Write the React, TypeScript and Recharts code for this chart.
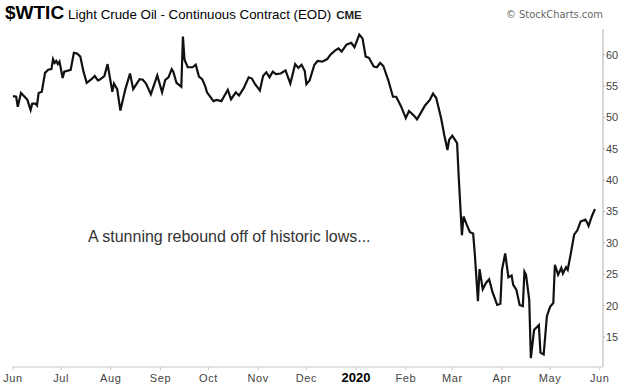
import React from 'react';
import { LineChart, Line, XAxis, YAxis } from 'recharts';

// days since Jun 1 2019, and the close on that day
const days = [
  0, 2, 3, 5, 8, 9, 11, 12, 14, 15, 16, 18, 20, 22, 24, 25, 26, 27, 28, 29,
  31, 32, 36, 38, 40, 42, 44, 46, 49, 51, 53, 54, 57, 59, 62, 63, 65, 67, 70, 73,
  75, 79, 81, 83, 86, 88, 90, 93, 95, 97, 99, 100, 102, 105, 106, 107, 109, 112, 114, 116,
  118, 120, 121, 123, 125, 127, 130, 134, 136, 139, 141, 144, 147, 149, 151, 154, 156, 158, 160, 162,
  164, 167, 170, 173, 176, 178, 180, 182, 183, 185, 188, 190, 193, 196, 198, 201, 203, 205, 208, 211,
  213, 216, 218, 220, 222, 225, 227, 229, 231, 234, 237, 239, 242, 245, 247, 250, 252, 255, 257, 260,
  262, 264, 267, 269, 271, 272, 274, 277, 278, 280, 281, 283, 285, 287, 288, 290, 291, 293, 295, 297,
  299, 302, 304, 305, 307, 309, 311, 312, 314, 316, 318, 319, 320, 322, 323, 325, 328, 329, 331, 333,
  335, 337, 338, 340, 342, 343, 345, 346, 348, 350, 352, 354, 357, 358, 359, 361, 363,
];

const prices = [
  53.4, 53.3, 51.7, 53.9, 53.1, 52.8, 51.2, 52.2, 52.2, 51.9, 53.9, 54.1, 57.1, 57.6, 57.7, 59.3, 58.7, 59.0, 58.5, 58.9,
  56.3, 57.3, 57.6, 60.3, 60.2, 59.7, 57.3, 55.5, 56.1, 56.6, 55.9, 56.0, 56.6, 58.5, 54.1, 55.4, 54.5, 51.1, 54.4, 57.0,
  54.5, 56.1, 56.0, 55.4, 53.7, 55.2, 56.7, 54.0, 56.0, 56.4, 57.7, 57.3, 55.5, 54.9, 62.9, 59.2, 58.0, 58.0, 58.4, 56.5,
  56.1, 54.9, 54.0, 53.3, 52.6, 52.8, 52.6, 54.4, 52.9, 54.0, 53.5, 54.7, 56.4, 56.2, 55.3, 54.3, 56.6, 57.2, 56.4, 57.3,
  56.9, 57.0, 57.5, 55.4, 58.5, 57.9, 58.4, 57.4, 55.3, 55.9, 58.4, 59.0, 58.9, 59.3, 60.0, 60.7, 61.0, 60.5, 61.6, 61.9,
  61.2, 63.2, 62.6, 59.7, 59.5, 58.1, 58.0, 58.7, 58.2, 56.0, 53.3, 53.3, 51.8, 49.9, 51.0, 50.3, 49.7, 51.0, 51.9, 52.8,
  53.8, 53.1, 49.9, 47.2, 44.8, 46.4, 47.1, 45.9, 40.6, 31.2, 34.2, 32.9, 31.7, 31.5, 28.4, 20.7, 25.8, 22.6, 23.6, 24.2,
  22.2, 20.1, 20.3, 25.7, 28.3, 24.5, 24.8, 23.3, 22.5, 20.1, 19.9, 25.4, 24.9, 20.9, 11.6, 16.1, 16.9, 12.5, 12.2, 18.3,
  19.8, 20.4, 26.5, 24.9, 26.0, 25.1, 26.1, 25.7, 28.4, 31.3, 32.0, 33.4, 33.7, 33.3, 32.7, 34.2, 35.4,
];

// month starts (days since Jun 1 2019) and their labels
const monthTicks = [0, 30, 61, 92, 122, 153, 183, 214, 245, 274, 305, 335, 366];
const monthLabels = ['Jun', 'Jul', 'Aug', 'Sep', 'Oct', 'Nov', 'Dec', '2020', 'Feb', 'Mar', 'Apr', 'May', 'Jun'];

const priceTicks = [15, 20, 25, 30, 35, 40, 45, 50, 55, 60];

const data = days.map((d, i) => ({ day: d, price: prices[i] }));

const font = '"Liberation Sans", Arial, sans-serif';

const MonthTick = ({ x, y, payload }: any) => {
  const idx = monthTicks.indexOf(payload.value);
  const label = monthLabels[idx];
  const isYear = label === '2020';
  return (
    <text
      x={x}
      y={y + 12}
      textAnchor="middle"
      fontFamily={font}
      fontSize={isYear ? 13 : 11}
      fontWeight={isYear ? 'bold' : 'normal'}
      fill={isYear ? '#000' : '#444'}
      letterSpacing={isYear ? 0 : 0.6}
    >
      {label}
    </text>
  );
};

const PriceTick = ({ x, y, payload }: any) => (
  <text x={x} y={y + 4} textAnchor="start" fontFamily={font} fontSize={11} fill="#444">
    {payload.value}
  </text>
);

export default function App() {
  return (
    <div style={{ position: 'absolute', left: 0, top: 0, width: 625, height: 389, background: '#fff' }}>
      <LineChart width={625} height={389} data={data} margin={{ top: 29, right: 0, bottom: 0, left: 12 }}>
        <XAxis
          dataKey="day"
          type="number"
          domain={[-0.6, 368]}
          ticks={monthTicks}
          tick={<MonthTick />}
          height={22}
          tickSize={3}
          tickMargin={0}
          axisLine={{ stroke: '#c8c8c8' }}
          tickLine={{ stroke: '#c8c8c8' }}
          interval={0}
          allowDataOverflow
        />
        <XAxis
          xAxisId="top"
          dataKey="day"
          type="number"
          orientation="top"
          domain={[-0.6, 368]}
          height={0}
          tick={false}
          tickLine={false}
          axisLine={{ stroke: '#d8d8d8' }}
        />
        <YAxis
          orientation="right"
          type="number"
          domain={[10.2, 64.1]}
          ticks={priceTicks}
          tick={<PriceTick />}
          width={22}
          tickSize={2}
          tickMargin={1}
          axisLine={{ stroke: '#b0b0b0' }}
          tickLine={{ stroke: '#b0b0b0' }}
          interval={0}
          allowDataOverflow
        />
        <YAxis
          yAxisId="left"
          orientation="left"
          width={0}
          domain={[10.2, 64.1]}
          tick={false}
          tickLine={false}
          axisLine={{ stroke: '#c8c8c8' }}
        />
        <Line
          type="linear"
          dataKey="price"
          stroke="#111"
          strokeWidth={2.2}
          dot={false}
          isAnimationActive={false}
        />
      </LineChart>

      {/* header */}
      <div style={{ position: 'absolute', left: 5, top: 2, whiteSpace: 'nowrap', fontFamily: font, color: '#000' }}>
        <span style={{ fontSize: 19, fontWeight: 'bold' }}>$WTIC</span>
        <span style={{ fontSize: 13.3, marginLeft: 4 }}>Light Crude Oil - Continuous Contract (EOD)</span>
        <span style={{ fontSize: 11.5, fontWeight: 'bold', marginLeft: 5, color: '#222' }}>CME</span>
      </div>
      <div
        style={{
          position: 'absolute',
          right: 22,
          top: 8,
          whiteSpace: 'nowrap',
          fontFamily: '"DejaVu Sans Condensed", "DejaVu Sans", sans-serif',
          fontSize: 11,
          color: '#666',
        }}
      >
        © StockCharts.com
      </div>

      {/* annotation */}
      <div
        style={{
          position: 'absolute',
          left: 88,
          top: 228,
          whiteSpace: 'nowrap',
          fontFamily: font,
          fontSize: 16,
          color: '#333',
        }}
      >
        A stunning rebound off of historic lows...
      </div>
    </div>
  );
}
